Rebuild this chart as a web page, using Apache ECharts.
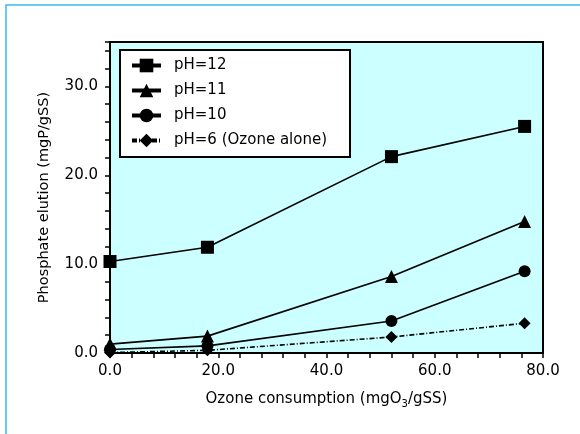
<!DOCTYPE html>
<html>
<head>
<meta charset="utf-8">
<script src="https://cdn.jsdelivr.net/npm/echarts@6/dist/echarts.min.js"></script>
<style>
html, body { margin: 0; padding: 0; background: #fff; }
#chart { width: 580px; height: 434px; }
</style>
</head>
<body>
<div id="chart"></div>
<script>
// ozone consumption (mgO3/gSS)
var ozone = [0, 18, 52, 76.6];
var ph12 = [10.3, 11.9, 22.1, 25.5];
var ph11 = [1.0, 1.9, 8.6, 14.8];
var ph10 = [0.4, 0.8, 3.6, 9.2];
var ph6 = [0.05, 0.3, 1.8, 3.35];
var seriesNames = ['pH=12', 'pH=11', 'pH=10', 'pH=6 (Ozone alone)'];

var FONT = 'DejaVu Sans';

function pairs(ys) {
	var out = [];
	for (var i = 0; i < ozone.length; i++) {
		out.push([ozone[i], ys[i]]);
	}
	return out;
}

function makeSeries(name, ys, symbol, size, lineType) {
	return {
		name: name,
		type: 'line',
		data: pairs(ys),
		symbol: symbol,
		symbolSize: size,
		clip: false,
		itemStyle: { color: '#000' },
		lineStyle: { color: '#000', width: 1.6, type: lineType },
		emphasis: { disabled: true }
	};
}

var chart = echarts.init(document.getElementById('chart'));
var option = {
	animation: false,
	backgroundColor: '#fff',
	textStyle: { fontFamily: FONT },
	graphic: [
		{
			// outer light blue frame
			type: 'rect',
			shape: { x: 6, y: 5, width: 600, height: 460 },
			style: { fill: 'none', stroke: '#3bb9ef', lineWidth: 1.5 },
			z: 0
		},
		{
			// legend box
			type: 'rect',
			shape: { x: 120, y: 50, width: 230, height: 107 },
			style: { fill: '#fff', stroke: '#000', lineWidth: 2 },
			z: 3
		}
	],
	grid: {
		left: 110,
		top: 42,
		right: 37,
		bottom: 81,
		show: true,
		backgroundColor: '#ccffff',
		borderColor: '#000',
		borderWidth: 2
	},
	legend: {
		orient: 'vertical',
		left: 130,
		top: 58,
		padding: 0,
		itemWidth: 29,
		itemHeight: 17,
		itemGap: 10,
		data: seriesNames,
		lineStyle: { width: 4 },
		textStyle: { fontFamily: FONT, fontSize: 15, color: '#000', padding: [0, 0, 0, 8] },
		z: 4
	},
	xAxis: {
		type: 'value',
		min: 0,
		max: 80,
		interval: 4,
		name: 'Ozone consumption (mgO{sub|3}/gSS)',
		nameLocation: 'middle',
		nameGap: 36,
		nameTextStyle: {
			fontFamily: FONT,
			fontSize: 15,
			color: '#000',
			rich: {
				sub: { fontFamily: FONT, fontSize: 10, color: '#000', padding: [10, 0, 0, 0] }
			}
		},
		axisLine: { lineStyle: { color: '#000', width: 2 } },
		axisTick: { show: true, length: 5, lineStyle: { color: '#000', width: 1.5 } },
		axisLabel: {
			margin: 11,
			fontFamily: FONT,
			fontSize: 15,
			color: '#000',
			formatter: function (v) {
				return v % 20 === 0 ? v.toFixed(1) : '';
			}
		},
		splitLine: { show: false }
	},
	yAxis: {
		type: 'value',
		min: 0,
		max: 35,
		interval: 2,
		name: 'Phosphate elution (mgP/gSS)',
		nameLocation: 'middle',
		nameGap: 58,
		nameTextStyle: { fontFamily: FONT, fontSize: 14.5, color: '#000' },
		axisLine: { lineStyle: { color: '#000', width: 2 } },
		axisTick: { show: true, length: 5, lineStyle: { color: '#000', width: 1.5 } },
		axisLabel: {
			margin: 12,
			fontFamily: FONT,
			fontSize: 15,
			color: '#000',
			formatter: function (v) {
				return v % 10 === 0 ? v.toFixed(1) : '';
			}
		},
		splitLine: { show: false }
	},
	series: [
		makeSeries(seriesNames[0], ph12, 'rect', 13, 'solid'),
		makeSeries(seriesNames[1], ph11, 'triangle', 13, 'solid'),
		makeSeries(seriesNames[2], ph10, 'circle', 12, 'solid'),
		makeSeries(seriesNames[3], ph6, 'diamond', 12, [5, 2, 1, 2])
	]
};
chart.setOption(option);
</script>
</body>
</html>
